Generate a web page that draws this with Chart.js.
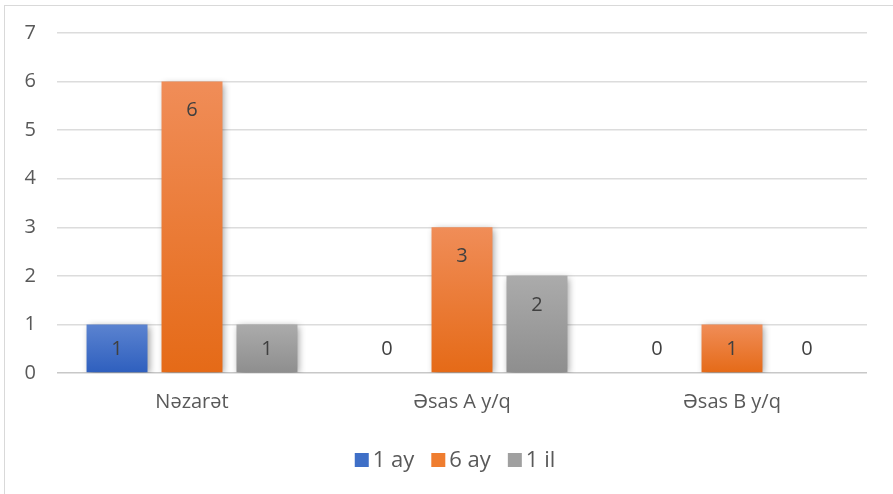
<!DOCTYPE html>
<html>
<head>
<meta charset="utf-8">
<title>Nəzarət / Əsas A / Əsas B</title>
<script src="https://cdn.jsdelivr.net/npm/chart.js@4/dist/chart.umd.min.js"></script>
<style>
  html, body { margin: 0; padding: 0; background: #fff; overflow: hidden; }
  #wrap { position: relative; width: 893px; height: 494px; }
  #frame {
    position: absolute; left: 4px; top: 5px; width: 900px; height: 500px;
    border: 1px solid #d9d9d9; box-sizing: border-box;
  }
  #chart { position: absolute; left: 0; top: 0; }
</style>
</head>
<body>
<div id="wrap">
  <div id="frame"></div>
  <canvas id="chart" width="893" height="494"></canvas>
</div>
<script>
// qruplar və dövrlər
const categories = ['Nəzarət', 'Əsas A y/q', 'Əsas B y/q'];
const seriesNames = ['1 ay', '6 ay', '1 il'];
const month1 = [1, 0, 0];
const month6 = [6, 3, 1];
const year1 = [1, 2, 0];
const yTicks = [0, 1, 2, 3, 4, 5, 6, 7];

const FONT = "'Open Sans', 'Noto Sans', sans-serif";
const TEXT = '#595959';

// rəng keçidləri: yuxarı / aşağı
const palettes = [
    ['#5b83d0', '#2e5fbe'],
    ['#f08d58', '#e56a17'],
    ['#ababab', '#8e8e8e']
];
const legendColors = ['#3f6fc7', '#ef7d2f', '#a0a0a0'];

/**
 * Hər sütun üçün şaquli qradiyent
 */
function barGradient(idx) {
    return function(ctx) {
        const chart = ctx.chart;
        const y = chart.scales && chart.scales.y;
        if (ctx.type !== 'data' || !y || !chart.chartArea) return legendColors[idx];
        const top = y.getPixelForValue(ctx.raw);
        const base = y.getPixelForValue(0);
        if (base - top < 1) return palettes[idx][1];
        const g = chart.ctx.createLinearGradient(0, top, 0, base);
        g.addColorStop(0, palettes[idx][0]);
        g.addColorStop(1, palettes[idx][1]);
        return g;
    };
}

// sütunların kölgəsi
const shadowPlugin = {
    id: 'barShadow',
    beforeDatasetsDraw(chart) {
        const c = chart.ctx;
        c.save();
        c.shadowColor = 'rgba(0, 0, 0, 0.4)';
        c.shadowBlur = 7;
        c.shadowOffsetX = 2;
        c.shadowOffsetY = 2;
    },
    afterDatasetsDraw(chart) {
        chart.ctx.restore();
    }
};

// sütunların içində dəyərlər
const valueLabels = {
    id: 'valueLabels',
    afterDatasetsDraw(chart) {
        const c = chart.ctx;
        const base = chart.scales.y.getPixelForValue(0);
        c.save();
        c.font = '20px ' + FONT;
        c.fillStyle = '#404040';
        c.textAlign = 'center';
        c.textBaseline = 'middle';
        chart.data.datasets.forEach((ds, i) => {
            chart.getDatasetMeta(i).data.forEach((bar, j) => {
                const ty = Math.min(bar.y + 29, base - 24);
                c.fillText(String(ds.data[j]), bar.x, ty);
            });
        });
        c.restore();
    }
};

// aşağıda əfsanə: kvadrat + yazı, ortada
const bottomLegend = {
    id: 'bottomLegend',
    afterDraw(chart) {
        const c = chart.ctx;
        const box = 14, gap = 4, spacing = 17, cy = 460, cx = 455;
        c.save();
        c.font = '22px ' + FONT;
        c.textBaseline = 'middle';
        c.textAlign = 'left';
        const items = chart.data.datasets.map((ds, i) => ({
            text: ds.label, color: legendColors[i], w: box + gap + c.measureText(ds.label).width
        }));
        const total = items.reduce((s, it) => s + it.w, 0) + spacing * (items.length - 1);
        let x = cx - total / 2;
        items.forEach(it => {
            c.fillStyle = it.color;
            c.fillRect(x, cy - box / 2, box, box);
            c.fillStyle = TEXT;
            c.fillText(it.text, x + box + gap, cy + 1);
            x += it.w + spacing;
        });
        c.restore();
    }
};

const seriesData = [month1, month6, year1];

new Chart(document.getElementById('chart'), {
    type: 'bar',
    data: {
        labels: categories,
        datasets: seriesNames.map((name, i) => ({
            label: name,
            data: seriesData[i],
            backgroundColor: barGradient(i),
            borderWidth: 0,
            categoryPercentage: 0.833,
            barPercentage: 0.813
        }))
    },
    options: {
        responsive: false,
        animation: false,
        layout: { padding: { top: 30, right: 26, left: 0, bottom: 0 } },
        plugins: {
            tooltip: { enabled: false },
            legend: { display: false }
        },
        scales: {
            x: {
                afterFit(s) { s.height = 121; },
                grid: { display: false },
                border: { display: false },
                ticks: { color: TEXT, font: { family: FONT, size: 20 }, padding: 9 }
            },
            y: {
                min: 0,
                max: 7,
                afterFit(s) { s.width = 57; },
                afterBuildTicks(s) { s.ticks = yTicks.map(v => ({ value: v })); },
                border: { display: false },
                grid: {
                    drawTicks: false,
                    color: ctx => ctx.tick && ctx.tick.value === 0 ? '#c8c8c8' : '#dcdcdc',
                    lineWidth: 1.5
                },
                ticks: { color: TEXT, font: { family: FONT, size: 20 }, padding: 21 }
            }
        }
    },
    plugins: [shadowPlugin, valueLabels, bottomLegend]
});
</script>
</body>
</html>
